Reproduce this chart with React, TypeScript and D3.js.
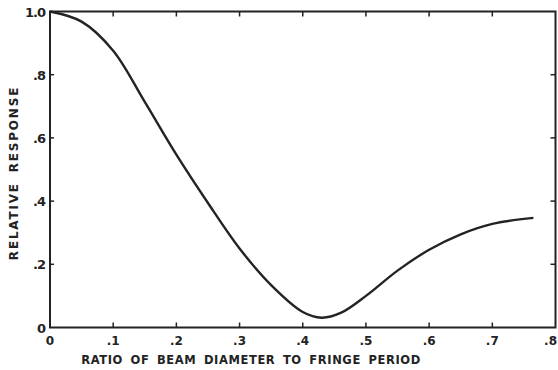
import React, { useEffect, useRef } from 'react'
import * as d3 from 'd3'

// values
const ratio = [0, 0.05, 0.1, 0.15, 0.2, 0.25, 0.3, 0.35, 0.4, 0.43, 0.46, 0.5, 0.55, 0.6, 0.65, 0.7, 0.765]
const response = [1.0, 0.968, 0.876, 0.714, 0.547, 0.394, 0.25, 0.134, 0.049, 0.031, 0.046, 0.1, 0.18, 0.246, 0.295, 0.328, 0.347]

const xTicks = [0, 0.1, 0.2, 0.3, 0.4, 0.5, 0.6, 0.7, 0.8]
const xTickLabels = ['0', '.1', '.2', '.3', '.4', '.5', '.6', '.7', '.8']
const yTicks = [0, 0.2, 0.4, 0.6, 0.8, 1.0]
const yTickLabels = ['0', '.2', '.4', '.6', '.8', '1.0']

const W = 558
const H = 370
const ink = '#232323'
const font = '"DejaVu Sans", sans-serif'

export default function App() {
  const ref = useRef<SVGSVGElement>(null)

  useEffect(() => {
    const svg = d3.select(ref.current)
    svg.selectAll('*').remove()

    const x = d3.scaleLinear().domain([0, 0.8]).range([50, 555.5])
    const y = d3.scaleLinear().domain([0, 1]).range([327.5, 11.5])

    const g = svg.append('g')

    // frame
    g.append('rect')
      .attr('x', x(0)).attr('y', y(1))
      .attr('width', x(0.8) - x(0)).attr('height', y(0) - y(1))
      .attr('fill', 'none').attr('stroke', ink).attr('stroke-width', 2)

    // inward ticks
    xTicks.slice(1, -1).forEach((t) => {
      g.append('line').attr('x1', x(t)).attr('x2', x(t)).attr('y1', y(0)).attr('y2', y(0) - 5)
        .attr('stroke', ink).attr('stroke-width', 1.5)
      g.append('line').attr('x1', x(t)).attr('x2', x(t)).attr('y1', y(1)).attr('y2', y(1) + 5)
        .attr('stroke', ink).attr('stroke-width', 1.5)
    })
    yTicks.slice(1, -1).forEach((t) => {
      g.append('line').attr('x1', x(0)).attr('x2', x(0) + 4).attr('y1', y(t)).attr('y2', y(t))
        .attr('stroke', ink).attr('stroke-width', 1.5)
      g.append('line').attr('x1', x(0.8)).attr('x2', x(0.8) - 5).attr('y1', y(t)).attr('y2', y(t))
        .attr('stroke', ink).attr('stroke-width', 1.5)
    })

    // tick labels
    g.selectAll('.xl')
      .data(xTicks)
      .enter()
      .append('text')
      .attr('x', (d) => (d === 0.8 ? W - 1 : x(d)))
      .attr('y', y(0) + 17)
      .attr('text-anchor', (d) => (d === 0.8 ? 'end' : 'middle'))
      .attr('font-family', font)
      .attr('font-weight', 'bold')
      .attr('font-size', 12)
      .attr('fill', ink)
      .text((d, i) => xTickLabels[i])

    g.selectAll('.yl')
      .data(yTicks)
      .enter()
      .append('text')
      .attr('x', x(0) - 5)
      .attr('y', (d) => y(d) + 5)
      .attr('text-anchor', 'end')
      .attr('font-family', font)
      .attr('font-weight', 'bold')
      .attr('font-size', 13)
      .attr('letter-spacing', -1)
      .attr('fill', ink)
      .text((d, i) => yTickLabels[i])

    // axis titles
    g.append('text')
      .attr('x', 251)
      .attr('y', 364)
      .attr('text-anchor', 'middle')
      .attr('font-family', font)
      .attr('font-weight', 'bold')
      .attr('font-size', 11.5)
      .attr('letter-spacing', 0.6)
      .attr('word-spacing', 3)
      .attr('fill', ink)
      .text('RATIO OF BEAM DIAMETER TO FRINGE PERIOD')

    g.append('text')
      .attr('transform', 'translate(18,173) rotate(-90)')
      .attr('text-anchor', 'middle')
      .attr('font-family', font)
      .attr('font-weight', 'bold')
      .attr('font-size', 12)
      .attr('letter-spacing', 1.8)
      .attr('word-spacing', 4)
      .attr('fill', ink)
      .text('RELATIVE RESPONSE')

    // response curve
    const line = d3.line<number>()
      .x((d, i) => x(ratio[i]))
      .y((d) => y(d))
      .curve(d3.curveCatmullRom.alpha(0.5))

    g.append('path')
      .datum(response)
      .attr('d', line)
      .attr('fill', 'none')
      .attr('stroke', ink)
      .attr('stroke-width', 2.4)
  }, [])

  return (
    <svg
      ref={ref}
      width={W}
      height={H}
      style={{ display: 'block', position: 'absolute', left: 0, top: 0, background: '#fff' }}
    />
  )
}
